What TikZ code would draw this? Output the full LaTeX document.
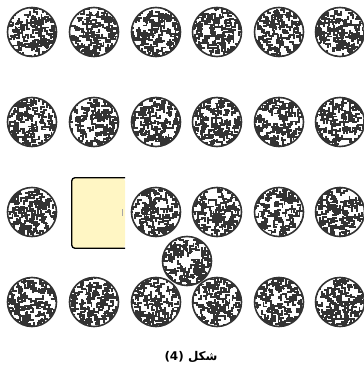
\documentclass[tikz,border=0pt]{standalone}
\usepackage{fontspec}
\newfontfamily\arabicfont[Script=Arabic]{DejaVu Sans}
\TeXXeTstate=1
\usetikzlibrary{positioning}
\definecolor{slotyellow}{RGB}{255,246,196}
\tikzset{
  disc/.style ={circle, minimum size=49pt, inner sep=0pt, fill=white,
                draw=black!80, line width=1.6pt,
                path picture={
                  \foreach \k in {1,...,150}{
                    \pgfmathsetmacro{\px}{24*rand}
                    \pgfmathsetmacro{\py}{24*rand}
                    \pgfmathsetmacro{\aa}{90*random(0,3)}
                    \pgfmathsetmacro{\bb}{\aa+90*(2*random(0,1)-1)}
                    \draw[shift={(path picture bounding box.center)},
                          line width=1.9pt, line join=miter]
                      (\px,\py) -- ++(\aa:4) -- ++(\bb:3.5);
                  }}},
  slot/.style ={rectangle, rounded corners=3pt, fill=slotyellow,
                minimum width=53pt, minimum height=70pt, inner sep=0pt},
  rim/.style  ={line width=1.3pt, rounded corners=3pt},
  figlabel/.style ={font=\arabicfont\bfseries\fontsize{12}{14}\selectfont},
}
\begin{document}
\begin{tikzpicture}[x=1pt, y=-1pt]
  \useasboundingbox (0,0) rectangle (363,371);
  \pgfmathsetseed{5}

  % grid of discs, the slot replaces row 3 / column 2
  \foreach \yy [count=\r] in {32,122,212,302}{
    \foreach \xx [count=\c] in {32,94,156,217,279,340}{
      \pgfmathtruncatemacro{\isgap}{(\r==3)&&(\c==2)}
      \ifnum\isgap=0
        \node[disc] (d-\r-\c) at (\xx,\yy) {};
      \fi
    }
  }
  \node[disc] (d-x) at (187,261) {};

  \node[slot] (gap) at (98.5,213) {};
  \draw[rim] (gap.north east) -- (gap.north west) -- (gap.south west) -- (gap.south east);
  \draw[black!35, line width=0.8pt] ([xshift=-3pt, yshift=4pt]gap.east) -- ([xshift=-3pt, yshift=-3pt]gap.east);

  \node[figlabel] (title) at (191,357) {\beginR شكل \beginL(4)\endL\endR};
\end{tikzpicture}
\end{document}
